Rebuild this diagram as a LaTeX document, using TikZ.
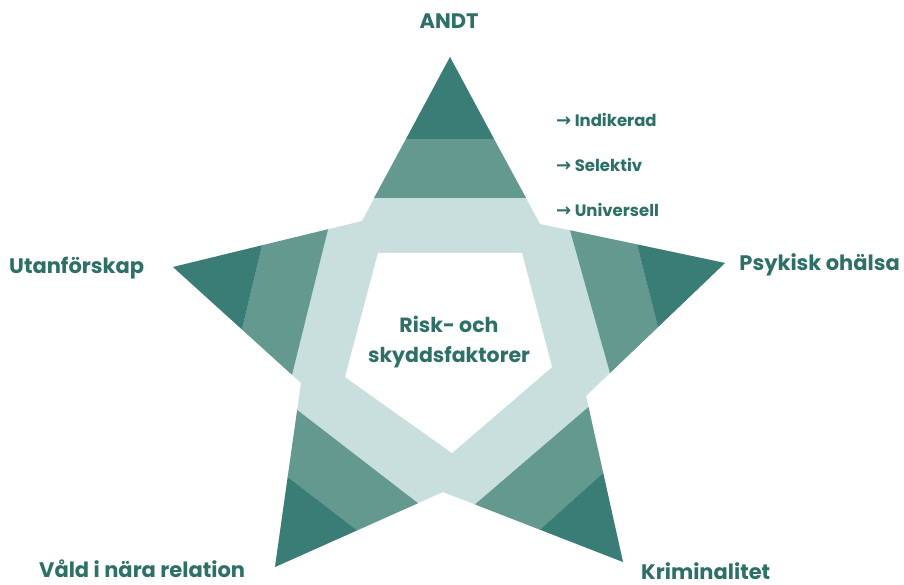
\documentclass[tikz,border=0pt]{standalone}
\usepackage{fontspec}
\setmainfont{Poppins}
\newfontfamily\arrowfont{DejaVu Sans}
\definecolor{darkteal}{HTML}{3A7D76}
\definecolor{midteal}{HTML}{63998F}
\definecolor{lightteal}{HTML}{C9DFDD}
\definecolor{txtteal}{HTML}{2C7066}
\begin{document}
\begin{tikzpicture}[x=1pt,y=-1pt,
  lbl/.style={text=txtteal,font=\fontsize{21}{24}\selectfont\bfseries,inner sep=0pt},
  lvl/.style={text=txtteal,font=\fontsize{16.5}{20}\selectfont\bfseries,inner sep=0pt,anchor=west},
  ctr/.style={text=txtteal,font=\fontsize{20.5}{30}\selectfont\bfseries,align=center,inner sep=0pt}]
\useasboundingbox[fill=white] (0,0) rectangle (904,585);
% star vertices
\coordinate (T) at (450,57);
\coordinate (URi) at (540,224);
\coordinate (R) at (725,263);
\coordinate (LRi) at (586,396);
\coordinate (BR) at (623,562);
\coordinate (Bi) at (443,492);
\coordinate (BL) at (275,567);
\coordinate (LLi) at (301,383);
\coordinate (L) at (173,267);
\coordinate (ULi) at (362,221);
\fill[lightteal] (T)--(URi)--(R)--(LRi)--(BR)--(Bi)--(BL)--(LLi)--(L)--(ULi)--cycle;
% top arm
\fill[midteal] (374,198)--(406,139)--(494,139)--(526,198)--cycle;
\fill[darkteal] (T)--(406,139)--(494,139)--cycle;
% left arm
\fill[midteal] (328,229.3)--(262,245.3)--(242,329.5)--(292,374.8)--cycle;
\fill[darkteal] (L)--(262,245.3)--(242,329.5)--cycle;
% right arm
\fill[midteal] (570,230.3)--(637,244.4)--(658,327.1)--(610,373)--cycle;
\fill[darkteal] (R)--(637,244.4)--(658,327.1)--cycle;
% bottom-left arm
\fill[midteal] (297.2,410)--(287.7,477)--(357,530.4)--(418,503.2)--cycle;
\fill[darkteal] (BL)--(287.7,477)--(357,530.4)--cycle;
% bottom-right arm
\fill[midteal] (475,504.4)--(540,529.7)--(603.2,473)--(588.5,407)--cycle;
\fill[darkteal] (BR)--(540,529.7)--(603.2,473)--cycle;
% inner pentagon
\fill[white] (378,253)--(522,253)--(552,367)--(452,453)--(345,377)--cycle;
% labels
\node[lbl] (andt) at (449,21) {ANDT};
\node[lvl] (ind) at (556,120) {{\arrowfont\bfseries\fontsize{18}{20}\selectfont →} Indikerad};
\node[lvl] (sel) at (556,165) {{\arrowfont\bfseries\fontsize{18}{20}\selectfont →} Selektiv};
\node[lvl] (uni) at (556,210) {{\arrowfont\bfseries\fontsize{18}{20}\selectfont →} Universell};
\node[lbl,anchor=west] (utan) at (9,268) {Utanförskap};
\node[lbl,anchor=east] (psyk) at (900,265) {Psykisk ohälsa};
\node[lbl,anchor=west] (vald) at (39,569) {Våld i nära relation};
\node[lbl,anchor=west] (krim) at (641,571) {Kriminalitet};
\node[ctr] (risk) at (449,342) {Risk- och\\skyddsfaktorer};
\end{tikzpicture}
\end{document}
